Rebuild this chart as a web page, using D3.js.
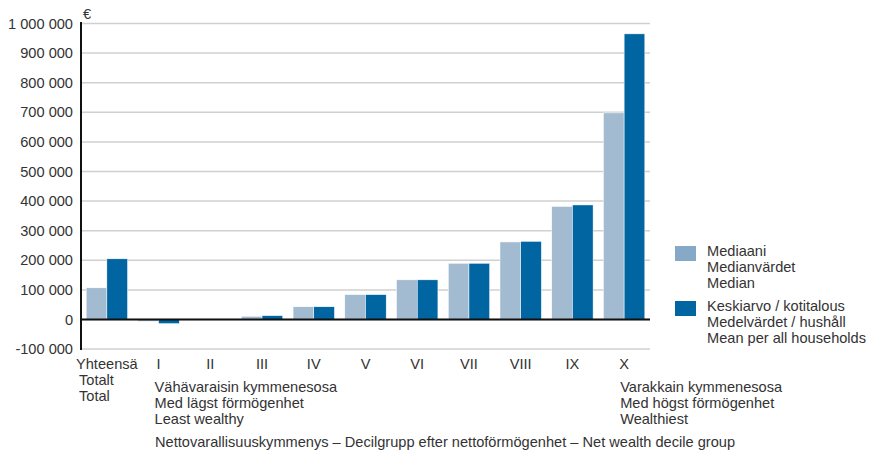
<!DOCTYPE html>
<html>
<head>
<meta charset="utf-8">
<script src="https://cdn.jsdelivr.net/npm/d3@7"></script>
<style>
  body { margin: 0; background: #fff; }
  svg text { font-family: "Liberation Sans", Arial, sans-serif; font-size: 14.6px; fill: #333; }
</style>
</head>
<body>
<div id="chart"></div>
<script>
// data
var categories = ["Yhteensä", "I", "II", "III", "IV", "V", "VI", "VII", "VIII", "IX", "X"];
var medianValues = [107000, -6000, 500, 11000, 43000, 84000, 134000, 190000, 262000, 382000, 698000];
var meanValues = [205000, -14000, 500, 13000, 43000, 84000, 134000, 190000, 264000, 387000, 965000];
var yTicks = [-100000, 0, 100000, 200000, 300000, 400000, 500000, 600000, 700000, 800000, 900000, 1000000];
var seriesNames = ["median", "mean"];
var legendLabels = [
  ["Mediaani", "Medianvärdet", "Median"],
  ["Keskiarvo / kotitalous", "Medelvärdet / hushåll", "Mean per all households"]
];
var totalSub = ["Totalt", "Total"];
var leastSub = ["Vähävaraisin kymmenesosa", "Med lägst förmögenhet", "Least wealthy"];
var mostSub = ["Varakkain kymmenesosa", "Med högst förmögenhet", "Wealthiest"];
var xTitle = "Nettovarallisuuskymmenys – Decilgrupp efter nettoförmögenhet – Net wealth decile group";

var chartWidth = 871, chartHeight = 455;
var plotLeft = 81, plotRight = 650, plotTop = 23.5, zeroY = 319.5;

var color = d3.scaleOrdinal().domain(seriesNames).range(["#a2bbd1", "#0065a1"]);
var legendColor = d3.scaleOrdinal().domain(seriesNames).range(["#86a9c7", "#0065a1"]);

var svg = d3.select("#chart").append("svg")
  .attr("width", chartWidth)
  .attr("height", chartHeight);

var y = d3.scaleLinear()
  .domain([0, 1000000])
  .range([zeroY, plotTop]);

var x = d3.scaleBand()
  .domain(categories)
  .range([plotLeft, plotRight])
  .paddingInner(0.2)
  .paddingOuter(0.1);

var x1 = d3.scaleBand()
  .domain(seriesNames)
  .range([0, x.bandwidth()]);

// gridlines
svg.append("g")
  .selectAll("line")
  .data(yTicks)
  .enter()
  .append("line")
  .attr("x1", plotLeft)
  .attr("x2", plotRight)
  .attr("y1", function(d) { return y(d); })
  .attr("y2", function(d) { return y(d); })
  .style("stroke", "#d0d0d0")
  .style("stroke-width", 1.5);

// tick labels
svg.append("g")
  .selectAll("text")
  .data(yTicks)
  .enter()
  .append("text")
  .attr("x", 73)
  .attr("y", function(d) { return y(d); })
  .attr("dy", "0.35em")
  .attr("text-anchor", "end")
  .text(function(d) { return d3.format(",")(d).replace(/,/g, " ").replace("−", "-"); });

// bars
var groups = svg.append("g")
  .selectAll("g")
  .data(categories)
  .enter()
  .append("g")
  .attr("transform", function(d) { return "translate(" + x(d) + ",0)"; });

groups.selectAll("rect")
  .data(function(d, i) {
    return [
      { key: "median", value: medianValues[i] },
      { key: "mean", value: meanValues[i] }
    ];
  })
  .enter()
  .append("rect")
  .attr("x", function(d) { return x1(d.key); })
  .attr("width", x1.bandwidth())
  .attr("y", function(d) { return Math.min(y(d.value), y(0)); })
  .attr("height", function(d) { return Math.abs(y(d.value) - y(0)); })
  .style("fill", function(d) { return color(d.key); })
  .style("stroke", "#fff")
  .style("stroke-width", 0.5);

// axes lines
svg.append("line")
  .attr("x1", plotLeft)
  .attr("x2", plotRight)
  .attr("y1", y(0))
  .attr("y2", y(0))
  .style("stroke", "#111")
  .style("stroke-width", 2);

svg.append("line")
  .attr("x1", plotLeft)
  .attr("x2", plotLeft)
  .attr("y1", y(1000000) - 1.5)
  .attr("y2", y(-100000) + 1)
  .style("stroke", "#111")
  .style("stroke-width", 2);

svg.append("text")
  .attr("x", 83)
  .attr("y", 19)
  .text("€");

// category labels
var labelY = 369;
svg.append("g")
  .selectAll("text")
  .data(categories)
  .enter()
  .append("text")
  .attr("x", function(d) { return x(d) + x.bandwidth() / 2; })
  .attr("y", labelY)
  .attr("text-anchor", "middle")
  .text(function(d) { return d; });

// sub labels
svg.append("g")
  .selectAll("text")
  .data(totalSub)
  .enter()
  .append("text")
  .attr("x", 79)
  .attr("y", function(d, i) { return 385 + i * 16; })
  .text(function(d) { return d; });

svg.append("g")
  .selectAll("text")
  .data(leastSub)
  .enter()
  .append("text")
  .attr("x", x("I") + x.bandwidth() / 2 - 4)
  .attr("y", function(d, i) { return 392 + i * 16; })
  .text(function(d) { return d; });

svg.append("g")
  .selectAll("text")
  .data(mostSub)
  .enter()
  .append("text")
  .attr("x", x("X") + x.bandwidth() / 2 - 4)
  .attr("y", function(d, i) { return 392 + i * 16; })
  .text(function(d) { return d; });

svg.append("text")
  .attr("x", 155)
  .attr("y", 447)
  .text(xTitle);

// legend
var legend = svg.append("g")
  .selectAll("g")
  .data(seriesNames)
  .enter()
  .append("g")
  .attr("transform", function(d, i) { return "translate(675," + (246 + i * 55) + ")"; });

legend.append("rect")
  .attr("width", 21)
  .attr("height", 15)
  .style("fill", function(d) { return legendColor(d); });

legend.selectAll("text")
  .data(function(d, i) { return legendLabels[i]; })
  .enter()
  .append("text")
  .attr("x", 32)
  .attr("y", function(d, i) { return 10 + i * 16; })
  .text(function(d) { return d; });
</script>
</body>
</html>
